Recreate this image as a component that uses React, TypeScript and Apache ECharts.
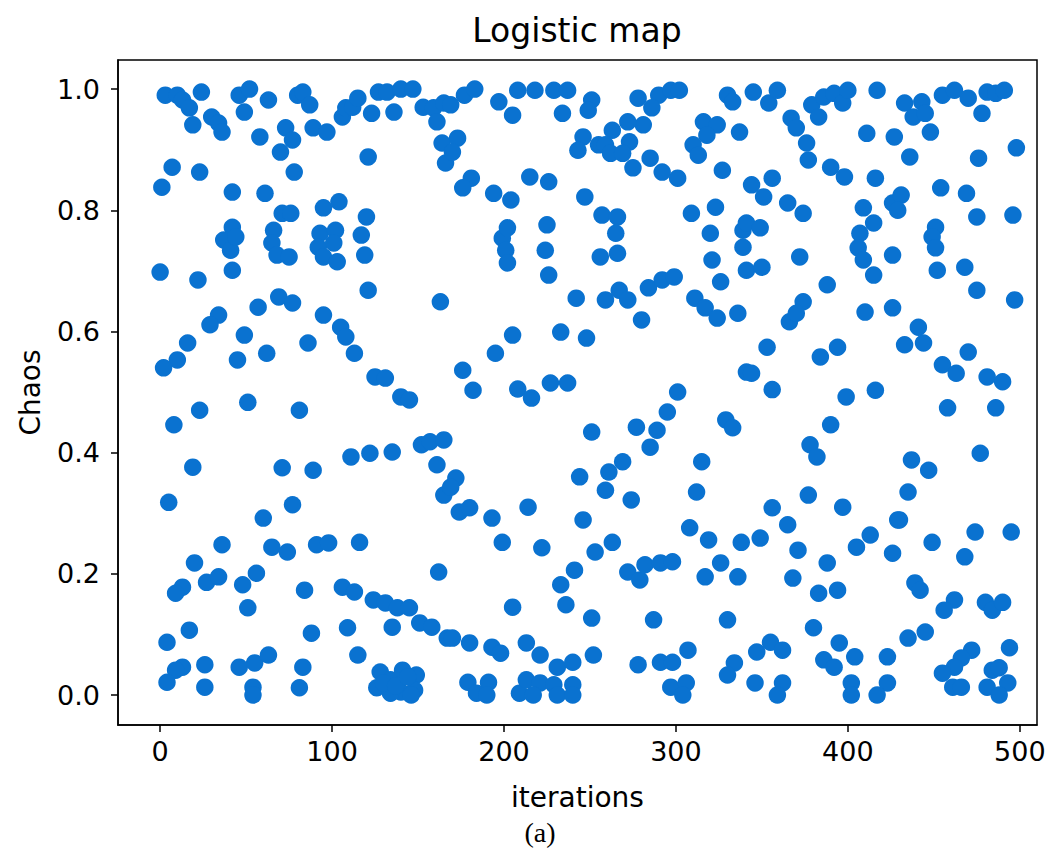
import React, { useEffect, useRef } from "react";
import * as echarts from "echarts";

// [iteration, chaos] pairs, grouped by x-range
const points0to100: number[][] = [
  [3,0.99],[10,0.99],[13,0.982],[24,0.995],[17,0.969],[19,0.941],[30,0.954],[34,0.944],[36,0.929],[46,0.99],
  [52,1.0],[49,0.962],[63,0.982],[58,0.921],[73,0.936],[77,0.916],[70,0.896],[80,0.99],[78,0.863],[7,0.871],
  [1,0.838],[23,0.863],[42,0.83],[61,0.828],[71,0.795],[76,0.795],[66,0.767],[65,0.746],[68,0.726],[75,0.723],
  [42,0.772],[37,0.751],[41,0.734],[44,0.756],[0,0.698],[22,0.685],[42,0.701],[69,0.657],[77,0.647],[57,0.64],
  [34,0.627],[29,0.611],[49,0.594],[16,0.581],[10,0.553],[2,0.54],[45,0.553],[62,0.564],
  [23,0.47],[8,0.446],[51,0.483],[19,0.376],[71,0.375],[5,0.318],[77,0.314],[60,0.292],[36,0.248],[65,0.244],
  [74,0.236],[20,0.218],[13,0.178],[9,0.168],[27,0.186],[34,0.195],[56,0.201],[48,0.182],[51,0.144],[17,0.107],
  [4,0.087],[13,0.046],[9,0.041],[4,0.021],[26,0.05],[26,0.013],[46,0.046],[55,0.053],[63,0.066],[54,0.013],
  [54,0.0],[83,0.995],[87,0.974],[89,0.936],[97,0.929],[95,0.804],[93,0.762],[92,0.739],[95,0.723],[95,0.627],
  [86,0.581],[81,0.47],[89,0.371],[91,0.248],[98,0.251],[84,0.173],[88,0.102],[83,0.046],[81,0.012]
];

const points100to200: number[][] = [
  [106,0.954],[108,0.969],[112,0.97],[115,0.985],[123,0.96],[127,0.995],[132,0.995],[140,1.0],[147,1.0],[136,0.962],
  [153,0.97],[159,0.969],[161,0.946],[165,0.977],[164,0.911],[166,0.878],[121,0.888],[104,0.814],[102,0.767],[103,0.715],
  [101,0.746],[120,0.789],[117,0.759],[119,0.726],[121,0.668],[163,0.649],[105,0.607],[108,0.591],[113,0.564],[125,0.525],
  [131,0.523],[140,0.492],[145,0.487],[111,0.393],[122,0.399],[135,0.401],[152,0.413],[157,0.418],[165,0.421],[161,0.38],
  [165,0.33],[116,0.252],[162,0.203],[106,0.178],[113,0.17],[124,0.157],[131,0.152],[138,0.144],[145,0.144],[135,0.112],
  [151,0.119],[158,0.112],[167,0.094],[109,0.111],[115,0.066],[128,0.038],[126,0.012],[134,0.025],[141,0.041],[140,0.005],
  [149,0.033],[148,0.008],[134,0.003],[130,0.02],[137,0.015],[144,0.03],[146,0.0],
  [169,0.974],[177,0.99],[183,1.0],[197,0.979],[173,0.919],[170,0.896],[181,0.853],[176,0.837],[194,0.828],[199,0.754],
  [195,0.564],[176,0.536],[182,0.503],[172,0.358],[169,0.343],[174,0.302],[180,0.309],[193,0.292],[199,0.252],[170,0.094],
  [180,0.086],[193,0.079],[198,0.069],[179,0.021],[191,0.021],[184,0.003],[190,0.0]
];

const points200to300: number[][] = [
  [205,0.957],[208,0.998],[218,0.998],[229,0.998],[237,0.998],[234,0.96],[251,0.982],[249,0.965],[204,0.817],[215,0.855],
  [226,0.847],[246,0.921],[243,0.899],[255,0.908],[247,0.822],[202,0.771],[201,0.734],[202,0.713],[225,0.776],[224,0.734],
  [226,0.693],[242,0.655],[205,0.594],[233,0.599],[248,0.589],[208,0.505],[227,0.515],[237,0.515],[216,0.49],[251,0.434],
  [214,0.31],[222,0.243],[244,0.36],[246,0.289],[253,0.236],[241,0.206],[233,0.182],[236,0.149],[205,0.145],[251,0.127],
  [213,0.086],[221,0.066],[231,0.046],[240,0.054],[252,0.066],[209,0.003],[213,0.025],[221,0.02],[217,0.0],[229,0.017],
  [240,0.017],[231,0.0],[240,0.0],
  [278,0.985],[290,0.99],[297,0.998],[286,0.969],[281,0.941],[272,0.946],[263,0.932],[259,0.908],[262,0.894],[273,0.913],
  [269,0.894],[275,0.87],[285,0.886],[292,0.863],[257,0.792],[266,0.789],[265,0.762],[266,0.729],[256,0.723],[259,0.652],
  [267,0.668],[272,0.652],[284,0.672],[292,0.685],[299,0.69],[280,0.619],[295,0.467],[289,0.437],[285,0.409],[277,0.442],
  [269,0.385],[261,0.368],[259,0.338],[274,0.322],[263,0.252],[272,0.203],[279,0.19],[282,0.215],[291,0.218],[298,0.22],
  [287,0.124],[278,0.05],[291,0.054],[298,0.054],[297,0.013]
];

const points300to400: number[][] = [
  [302,0.998],[301,0.853],[316,0.946],[324,0.941],[318,0.924],[310,0.908],[313,0.891],[330,0.99],[333,0.979],[337,0.929],
  [327,0.866],[309,0.795],[323,0.805],[320,0.762],[321,0.718],[326,0.682],[339,0.767],[339,0.739],[311,0.655],[317,0.639],
  [324,0.622],[336,0.63],[341,0.533],[301,0.5],[329,0.454],[333,0.441],[315,0.385],[312,0.335],[308,0.276],[319,0.256],
  [338,0.252],[317,0.195],[326,0.218],[336,0.195],[330,0.124],[307,0.074],[306,0.02],[304,0.0],[334,0.053],[330,0.033],
  [345,0.995],[354,0.977],[359,0.998],[367,0.952],[370,0.936],[376,0.911],[377,0.883],[379,0.974],[383,0.954],[386,0.987],
  [392,0.993],[397,0.977],[390,0.871],[398,0.855],[344,0.842],[356,0.853],[351,0.822],[365,0.812],[374,0.795],[341,0.779],
  [349,0.771],[341,0.701],[350,0.706],[372,0.723],[388,0.677],[374,0.649],[366,0.616],[370,0.63],[353,0.574],[384,0.558],
  [394,0.574],[344,0.531],[356,0.504],[399,0.492],[390,0.446],[378,0.413],[382,0.393],[377,0.33],[397,0.31],[356,0.309],
  [365,0.281],[349,0.259],[371,0.239],[388,0.218],[368,0.193],[383,0.168],[394,0.173],[380,0.111],[347,0.071],[355,0.087],
  [362,0.074],[386,0.058],[392,0.046],[395,0.086],[346,0.02],[362,0.02],[359,0.0]
];

const points400to500: number[][] = [
  [400,0.998],[417,0.998],[411,0.927],[427,0.921],[416,0.853],[409,0.804],[415,0.779],[407,0.762],[406,0.738],[409,0.718],
  [415,0.693],[426,0.812],[426,0.726],[410,0.632],[426,0.639],[416,0.503],[405,0.244],[413,0.264],[426,0.234],[429,0.289],
  [404,0.063],[423,0.063],[402,0.02],[402,0.0],[423,0.02],[417,0.0],
  [433,0.977],[443,0.979],[438,0.954],[445,0.96],[448,0.929],[455,0.99],[462,0.998],[470,0.985],[478,0.96],[481,0.995],
  [486,0.993],[491,0.998],[436,0.888],[476,0.886],[498,0.903],[431,0.825],[429,0.8],[454,0.837],[469,0.828],[475,0.789],
  [496,0.792],[451,0.772],[449,0.756],[451,0.738],[452,0.701],[468,0.706],[475,0.668],[497,0.652],[441,0.607],[433,0.578],
  [444,0.581],[470,0.566],[455,0.545],[463,0.531],[481,0.525],[490,0.517],[458,0.474],[486,0.474],[477,0.399],[437,0.388],
  [447,0.371],[435,0.335],[430,0.289],[449,0.252],[474,0.269],[495,0.269],[468,0.228],[439,0.185],[442,0.173],[462,0.157],
  [456,0.14],[480,0.153],[484,0.14],[490,0.153],[435,0.094],[445,0.104],[472,0.074],[466,0.061],[462,0.046],[455,0.036],
  [461,0.013],[466,0.013],[494,0.078],[484,0.041],[488,0.045],[481,0.013],[493,0.02],[488,0.0]
];

const xTicks = [0, 100, 200, 300, 400, 500];
const yTicks = [0, 0.2, 0.4, 0.6, 0.8, 1.0];

const titleText = "Logistic map";
const xName = "iterations";
const yName = "Chaos";
const caption = "(a)";

export default function App() {
  const ref = useRef<HTMLDivElement>(null);
  useEffect(() => {
    document.body.style.margin = "0";
    if (!ref.current) return;
    const chart = echarts.init(ref.current, undefined, { renderer: "svg" });
    const data = [
      ...points0to100,
      ...points100to200,
      ...points200to300,
      ...points300to400,
      ...points400to500,
    ];
    const font = "DejaVu Sans";
    chart.setOption({
      animation: false,
      backgroundColor: "#ffffff",
      grid: {
        left: 118,
        top: 60,
        width: 919,
        height: 665,
        show: true,
        borderColor: "#000",
        borderWidth: 1.5,
        backgroundColor: "transparent",
      },
      graphic: [
        {
          type: "text",
          x: 577,
          y: 30,
          style: {
            text: titleText,
            fontSize: 33,
            fontFamily: font,
            fill: "#000",
            align: "center",
            verticalAlign: "middle",
          },
        },
        {
          type: "text",
          x: 540,
          y: 832,
          style: {
            text: caption,
            fontSize: 28,
            fontFamily: "Liberation Serif",
            fill: "#000",
            align: "center",
            verticalAlign: "middle",
          },
        },
      ],
      xAxis: {
        type: "value",
        min: -24.5,
        max: 510,
        name: xName,
        nameLocation: "middle",
        nameGap: 58,
        nameTextStyle: { fontSize: 28, fontFamily: font, color: "#000" },
        axisLine: { show: true, onZero: false, lineStyle: { color: "#000", width: 1.5 } },
        axisTick: {
          show: true,
          inside: false,
          length: 7,
          customValues: xTicks,
          lineStyle: { color: "#000", width: 1.5 },
        },
        axisLabel: {
          customValues: xTicks,
          fontSize: 27,
          fontFamily: font,
          color: "#000",
          margin: 13,
        },
        splitLine: { show: false },
      },
      yAxis: {
        type: "value",
        min: -0.0495,
        max: 1.048,
        name: yName,
        nameLocation: "middle",
        nameGap: 74,
        nameRotate: 90,
        nameTextStyle: { fontSize: 28, fontFamily: font, color: "#000" },
        axisLine: { show: true, onZero: false, lineStyle: { color: "#000", width: 1.5 } },
        axisTick: {
          show: true,
          inside: false,
          length: 7,
          customValues: yTicks,
          lineStyle: { color: "#000", width: 1.5 },
        },
        axisLabel: {
          customValues: yTicks,
          fontSize: 27,
          fontFamily: font,
          color: "#000",
          margin: 18,
          formatter: (v: number) => v.toFixed(1),
        },
        splitLine: { show: false },
      },
      series: [
        {
          type: "scatter",
          data,
          symbol: "circle",
          symbolSize: 17.5,
          itemStyle: { color: "#0a72d0", opacity: 1 },
        },
      ],
    });
    return () => chart.dispose();
  }, []);
  return <div ref={ref} style={{ width: 1051, height: 850 }} />;
}
